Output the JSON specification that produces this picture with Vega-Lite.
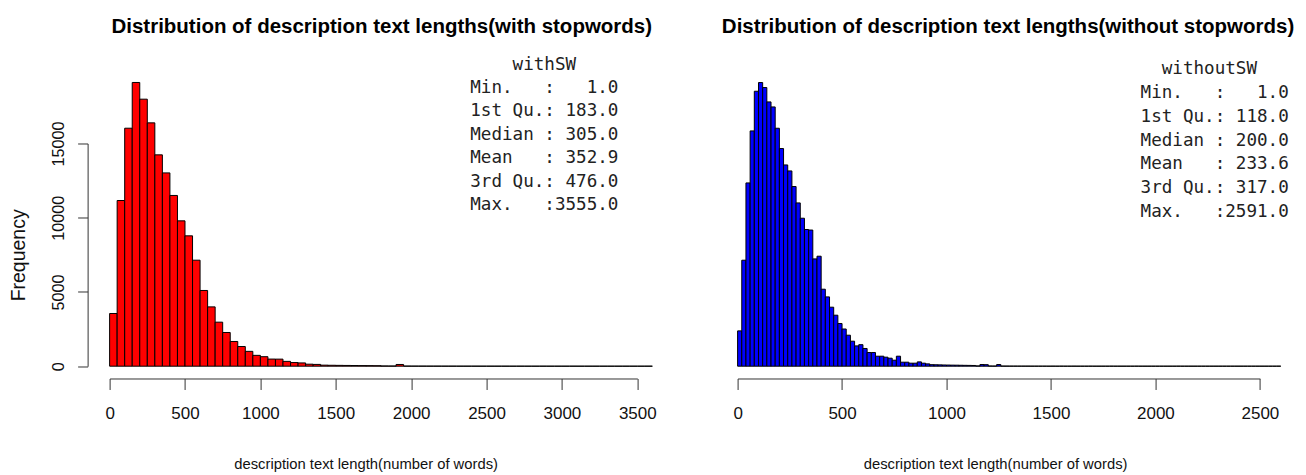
{
  "$schema": "https://vega.github.io/schema/vega-lite/v6.json",
  "background": "white",
  "padding": {"left": 8.6, "top": 16.5, "right": 0, "bottom": 0},
  "bounds": "flush",
  "spacing": 100,
  "config": {
    "view": {"stroke": null},
    "axis": {
      "grid": false,
      "domainColor": "#333333",
      "tickColor": "#333333",
      "domainWidth": 1,
      "tickWidth": 1,
      "labelColor": "#111111",
      "titleColor": "#111111",
      "labelFont": "Liberation Sans, Arial, sans-serif",
      "titleFont": "Liberation Sans, Arial, sans-serif",
      "titleFontWeight": "normal",
      "labelFlush": false,
      "labelOverlap": false
    },
    "title": {
      "font": "Liberation Sans, Arial, sans-serif",
      "fontWeight": "bold",
      "fontSize": 20.5,
      "color": "#000000",
      "frame": "group",
      "anchor": "middle",
      "baseline": "alphabetic"
    }
  },
  "datasets": {
    "withSW": [
      {"start": 0, "end": 50, "count": 3550},
      {"start": 50, "end": 100, "count": 11160},
      {"start": 100, "end": 150, "count": 16030},
      {"start": 150, "end": 200, "count": 19110},
      {"start": 200, "end": 250, "count": 17985},
      {"start": 250, "end": 300, "count": 16390},
      {"start": 300, "end": 350, "count": 14235},
      {"start": 350, "end": 400, "count": 13020},
      {"start": 400, "end": 450, "count": 11500},
      {"start": 450, "end": 500, "count": 9790},
      {"start": 500, "end": 550, "count": 8780},
      {"start": 550, "end": 600, "count": 7140},
      {"start": 600, "end": 650, "count": 5100},
      {"start": 650, "end": 700, "count": 3995},
      {"start": 700, "end": 750, "count": 2965},
      {"start": 750, "end": 800, "count": 2270},
      {"start": 800, "end": 850, "count": 1665},
      {"start": 850, "end": 900, "count": 1325},
      {"start": 900, "end": 950, "count": 1000},
      {"start": 950, "end": 1000, "count": 730},
      {"start": 1000, "end": 1050, "count": 640},
      {"start": 1050, "end": 1100, "count": 480},
      {"start": 1100, "end": 1150, "count": 475},
      {"start": 1150, "end": 1200, "count": 325},
      {"start": 1200, "end": 1250, "count": 245},
      {"start": 1250, "end": 1300, "count": 220},
      {"start": 1300, "end": 1350, "count": 135},
      {"start": 1350, "end": 1400, "count": 120},
      {"start": 1400, "end": 1450, "count": 70},
      {"start": 1450, "end": 1500, "count": 62},
      {"start": 1500, "end": 1550, "count": 55},
      {"start": 1550, "end": 1600, "count": 50},
      {"start": 1600, "end": 1650, "count": 45},
      {"start": 1650, "end": 1700, "count": 40},
      {"start": 1700, "end": 1750, "count": 36},
      {"start": 1750, "end": 1800, "count": 32},
      {"start": 1800, "end": 1850, "count": 15},
      {"start": 1850, "end": 1900, "count": 12},
      {"start": 1900, "end": 1950, "count": 115},
      {"start": 1950, "end": 2000, "count": 8},
      {"start": 2000, "end": 2050, "count": 6},
      {"start": 2050, "end": 2100, "count": 5},
      {"start": 2100, "end": 2150, "count": 4},
      {"start": 2150, "end": 2200, "count": 4},
      {"start": 2200, "end": 2250, "count": 3},
      {"start": 2250, "end": 2300, "count": 3},
      {"start": 2300, "end": 2350, "count": 2},
      {"start": 2350, "end": 2400, "count": 2},
      {"start": 2400, "end": 2450, "count": 2},
      {"start": 2450, "end": 2500, "count": 1},
      {"start": 2500, "end": 2550, "count": 1},
      {"start": 2550, "end": 2600, "count": 1},
      {"start": 2600, "end": 2650, "count": 1},
      {"start": 2650, "end": 2700, "count": 0},
      {"start": 2700, "end": 2750, "count": 1},
      {"start": 2750, "end": 2800, "count": 0},
      {"start": 2800, "end": 2850, "count": 0},
      {"start": 2850, "end": 2900, "count": 1},
      {"start": 2900, "end": 2950, "count": 0},
      {"start": 2950, "end": 3000, "count": 0},
      {"start": 3000, "end": 3050, "count": 0},
      {"start": 3050, "end": 3100, "count": 1},
      {"start": 3100, "end": 3150, "count": 0},
      {"start": 3150, "end": 3200, "count": 0},
      {"start": 3200, "end": 3250, "count": 0},
      {"start": 3250, "end": 3300, "count": 0},
      {"start": 3300, "end": 3350, "count": 0},
      {"start": 3350, "end": 3400, "count": 0},
      {"start": 3400, "end": 3450, "count": 0},
      {"start": 3450, "end": 3500, "count": 0},
      {"start": 3500, "end": 3550, "count": 0},
      {"start": 3550, "end": 3600, "count": 1}
    ],
    "withoutSW": [
      {"start": 0, "end": 20, "count": 1395},
      {"start": 20, "end": 40, "count": 4188},
      {"start": 40, "end": 60, "count": 7242},
      {"start": 60, "end": 80, "count": 9297},
      {"start": 80, "end": 100, "count": 10865},
      {"start": 100, "end": 120, "count": 11209},
      {"start": 120, "end": 140, "count": 11011},
      {"start": 140, "end": 160, "count": 10443},
      {"start": 160, "end": 180, "count": 10245},
      {"start": 180, "end": 200, "count": 9403},
      {"start": 200, "end": 220, "count": 8601},
      {"start": 220, "end": 240, "count": 7953},
      {"start": 240, "end": 260, "count": 7716},
      {"start": 260, "end": 280, "count": 7100},
      {"start": 280, "end": 300, "count": 6452},
      {"start": 300, "end": 320, "count": 5847},
      {"start": 320, "end": 340, "count": 5401},
      {"start": 340, "end": 360, "count": 5380},
      {"start": 360, "end": 380, "count": 4239},
      {"start": 380, "end": 400, "count": 4346},
      {"start": 400, "end": 420, "count": 3042},
      {"start": 420, "end": 440, "count": 2738},
      {"start": 440, "end": 460, "count": 2331},
      {"start": 460, "end": 480, "count": 2015},
      {"start": 480, "end": 500, "count": 1687},
      {"start": 500, "end": 520, "count": 1470},
      {"start": 520, "end": 540, "count": 1225},
      {"start": 540, "end": 560, "count": 988},
      {"start": 560, "end": 580, "count": 802},
      {"start": 580, "end": 600, "count": 850},
      {"start": 600, "end": 620, "count": 700},
      {"start": 620, "end": 640, "count": 540},
      {"start": 640, "end": 660, "count": 540},
      {"start": 660, "end": 680, "count": 395},
      {"start": 680, "end": 700, "count": 395},
      {"start": 700, "end": 720, "count": 356},
      {"start": 720, "end": 740, "count": 316},
      {"start": 740, "end": 760, "count": 237},
      {"start": 760, "end": 780, "count": 395},
      {"start": 780, "end": 800, "count": 158},
      {"start": 800, "end": 820, "count": 158},
      {"start": 820, "end": 840, "count": 119},
      {"start": 840, "end": 860, "count": 119},
      {"start": 860, "end": 880, "count": 170},
      {"start": 880, "end": 900, "count": 119},
      {"start": 900, "end": 920, "count": 91},
      {"start": 920, "end": 940, "count": 60},
      {"start": 940, "end": 960, "count": 56},
      {"start": 960, "end": 980, "count": 52},
      {"start": 980, "end": 1000, "count": 48},
      {"start": 1000, "end": 1020, "count": 45},
      {"start": 1020, "end": 1040, "count": 42},
      {"start": 1040, "end": 1060, "count": 40},
      {"start": 1060, "end": 1080, "count": 37},
      {"start": 1080, "end": 1100, "count": 34},
      {"start": 1100, "end": 1120, "count": 31},
      {"start": 1120, "end": 1140, "count": 28},
      {"start": 1140, "end": 1160, "count": 10},
      {"start": 1160, "end": 1180, "count": 65},
      {"start": 1180, "end": 1200, "count": 60},
      {"start": 1200, "end": 1220, "count": 8},
      {"start": 1220, "end": 1240, "count": 6},
      {"start": 1240, "end": 1260, "count": 65},
      {"start": 1260, "end": 1280, "count": 5},
      {"start": 1280, "end": 1300, "count": 4},
      {"start": 1300, "end": 1320, "count": 3},
      {"start": 1320, "end": 1340, "count": 3},
      {"start": 1340, "end": 1360, "count": 2},
      {"start": 1360, "end": 1380, "count": 2},
      {"start": 1380, "end": 1400, "count": 2},
      {"start": 1400, "end": 1420, "count": 1},
      {"start": 1420, "end": 1440, "count": 1},
      {"start": 1440, "end": 1460, "count": 1},
      {"start": 1460, "end": 1480, "count": 1},
      {"start": 1480, "end": 1500, "count": 0},
      {"start": 1500, "end": 1520, "count": 1},
      {"start": 1520, "end": 1540, "count": 0},
      {"start": 1540, "end": 1560, "count": 1},
      {"start": 1560, "end": 1580, "count": 0},
      {"start": 1580, "end": 1600, "count": 0},
      {"start": 1600, "end": 1620, "count": 1},
      {"start": 1620, "end": 1640, "count": 0},
      {"start": 1640, "end": 1660, "count": 0},
      {"start": 1660, "end": 1680, "count": 0},
      {"start": 1680, "end": 1700, "count": 1},
      {"start": 1700, "end": 1720, "count": 0},
      {"start": 1720, "end": 1740, "count": 0},
      {"start": 1740, "end": 1760, "count": 0},
      {"start": 1760, "end": 1780, "count": 0},
      {"start": 1780, "end": 1800, "count": 1},
      {"start": 1800, "end": 1820, "count": 0},
      {"start": 1820, "end": 1840, "count": 0},
      {"start": 1840, "end": 1860, "count": 0},
      {"start": 1860, "end": 1880, "count": 0},
      {"start": 1880, "end": 1900, "count": 0},
      {"start": 1900, "end": 1920, "count": 1},
      {"start": 1920, "end": 1940, "count": 0},
      {"start": 1940, "end": 1960, "count": 0},
      {"start": 1960, "end": 1980, "count": 0},
      {"start": 1980, "end": 2000, "count": 0},
      {"start": 2000, "end": 2020, "count": 0},
      {"start": 2020, "end": 2040, "count": 0},
      {"start": 2040, "end": 2060, "count": 0},
      {"start": 2060, "end": 2080, "count": 0},
      {"start": 2080, "end": 2100, "count": 0},
      {"start": 2100, "end": 2120, "count": 1},
      {"start": 2120, "end": 2140, "count": 0},
      {"start": 2140, "end": 2160, "count": 0},
      {"start": 2160, "end": 2180, "count": 0},
      {"start": 2180, "end": 2200, "count": 0},
      {"start": 2200, "end": 2220, "count": 0},
      {"start": 2220, "end": 2240, "count": 0},
      {"start": 2240, "end": 2260, "count": 0},
      {"start": 2260, "end": 2280, "count": 0},
      {"start": 2280, "end": 2300, "count": 0},
      {"start": 2300, "end": 2320, "count": 0},
      {"start": 2320, "end": 2340, "count": 0},
      {"start": 2340, "end": 2360, "count": 0},
      {"start": 2360, "end": 2380, "count": 0},
      {"start": 2380, "end": 2400, "count": 0},
      {"start": 2400, "end": 2420, "count": 0},
      {"start": 2420, "end": 2440, "count": 0},
      {"start": 2440, "end": 2460, "count": 0},
      {"start": 2460, "end": 2480, "count": 0},
      {"start": 2480, "end": 2500, "count": 0},
      {"start": 2500, "end": 2520, "count": 0},
      {"start": 2520, "end": 2540, "count": 0},
      {"start": 2540, "end": 2560, "count": 0},
      {"start": 2560, "end": 2580, "count": 0},
      {"start": 2580, "end": 2600, "count": 1}
    ],
    "summaryWith": [
      {"summary": "\u200b\u00a0\u00a0\u00a0\u00a0withSW\nMin.\u00a0\u00a0\u00a0:\u00a0\u00a0\u00a01.0\n1st\u00a0Qu.:\u00a0183.0\nMedian\u00a0:\u00a0305.0\nMean\u00a0\u00a0\u00a0:\u00a0352.9\n3rd\u00a0Qu.:\u00a0476.0\nMax.\u00a0\u00a0\u00a0:3555.0"}
    ],
    "summaryWithout": [
      {"summary": "\u200b\u00a0\u00a0withoutSW\nMin.\u00a0\u00a0\u00a0:\u00a0\u00a0\u00a01.0\n1st\u00a0Qu.:\u00a0118.0\nMedian\u00a0:\u00a0200.0\nMean\u00a0\u00a0\u00a0:\u00a0233.6\n3rd\u00a0Qu.:\u00a0317.0\nMax.\u00a0\u00a0\u00a0:2591.0"}
    ]
  },
  "hconcat": [
    {
      "width": 527.7,
      "height": 222.7,
      "title": {"text": "Distribution of description text lengths(with stopwords)", "dx": 8.3, "offset": 18.3},
      "layer": [
        {
          "data": {"name": "withSW"},
          "mark": {"type": "bar", "fill": "#ff0000", "stroke": "#000000", "strokeWidth": 1, "clip": false},
          "encoding": {
            "x": {
              "field": "start", "type": "quantitative",
              "scale": {"domain": [0, 3500], "nice": false, "zero": false},
              "axis": {
                "values": [0, 500, 1000, 1500, 2000, 2500, 3000, 3500],
                "format": "d", "tickSize": 11, "offset": 12.3,
                "labelPadding": 16, "labelFontSize": 17,
                "title": "description text length(number of words)",
                "titleFontSize": 14.8, "titlePadding": 35, "titleX": 256
              }
            },
            "x2": {"field": "end"},
            "y": {
              "field": "count", "type": "quantitative",
              "scale": {"domain": [0, 15000], "nice": false},
              "axis": {
                "values": [0, 5000, 10000, 15000],
                "format": "d", "tickSize": 10, "offset": 22,
                "labelAngle": -90, "labelAlign": "center", "labelBaseline": "bottom",
                "labelPadding": 11, "labelFontSize": 16.2,
                "title": "Frequency",
                "titleFontSize": 19.5, "titlePadding": 22
              }
            },
            "y2": {"datum": 0}
          }
        },
        {
          "data": {"name": "summaryWith"},
          "mark": {"type": "text", "font": "DejaVu Sans Mono", "fontSize": 17.6, "align": "left", "baseline": "alphabetic", "lineBreak": "\n", "lineHeight": 23.5, "color": "#222222"},
          "encoding": {
            "text": {"field": "summary", "type": "nominal"},
            "x": {"datum": 2392, "type": "quantitative"},
            "y": {"datum": 19984, "type": "quantitative"}
          }
        }
      ]
    },
    {
      "width": 522.3,
      "height": 222.7,
      "title": {"text": "Distribution of description text lengths(without stopwords)", "dx": 9.3, "offset": 22.8},
      "layer": [
        {
          "data": {"name": "withoutSW"},
          "mark": {"type": "bar", "fill": "#0000ff", "stroke": "#000000", "strokeWidth": 1, "clip": false},
          "encoding": {
            "x": {
              "field": "start", "type": "quantitative",
              "scale": {"domain": [0, 2500], "nice": false, "zero": false},
              "axis": {
                "values": [0, 500, 1000, 1500, 2000, 2500],
                "format": "d", "tickSize": 11, "offset": 12.3,
                "labelPadding": 16, "labelFontSize": 17,
                "title": "description text length(number of words)",
                "titleFontSize": 14.8, "titlePadding": 35, "titleX": 257.5
              }
            },
            "x2": {"field": "end"},
            "y": {
              "field": "count", "type": "quantitative",
              "scale": {"domain": [0, 8800], "nice": false},
              "axis": null
            },
            "y2": {"datum": 0}
          }
        },
        {
          "data": {"name": "summaryWithout"},
          "mark": {"type": "text", "font": "DejaVu Sans Mono", "fontSize": 17.6, "align": "left", "baseline": "alphabetic", "lineBreak": "\n", "lineHeight": 23.8, "color": "#222222"},
          "encoding": {
            "text": {"field": "summary", "type": "nominal"},
            "x": {"datum": 1929, "type": "quantitative"},
            "y": {"datum": 11538, "type": "quantitative"}
          }
        }
      ]
    }
  ]
}
